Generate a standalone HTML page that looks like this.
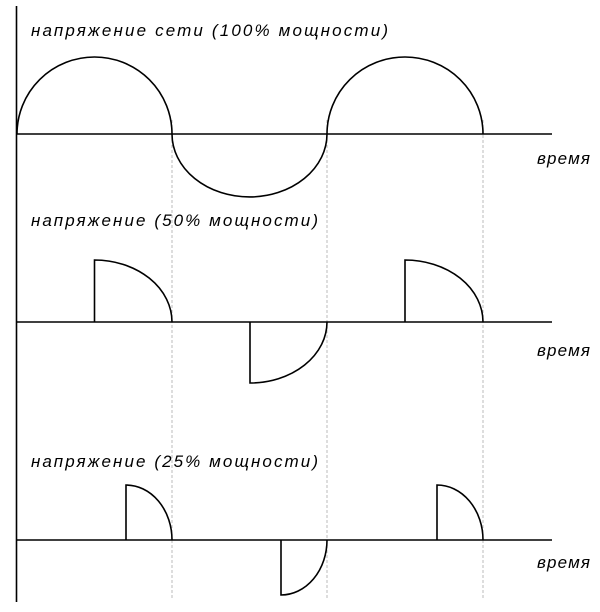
<!DOCTYPE html>
<html><head><meta charset="utf-8"><style>body{margin:0;background:#fff}svg{display:block}text{font-family:"Liberation Sans","DejaVu Sans",sans-serif;font-style:italic;font-size:17px;fill:#000}</style></head><body>
<svg width="600" height="612" viewBox="0 0 600 612" xmlns="http://www.w3.org/2000/svg">
<g stroke="#bbb" stroke-width="1" stroke-dasharray="3,2" fill="none">
<line x1="172" y1="120" x2="172" y2="600"/>
<line x1="327" y1="120" x2="327" y2="600"/>
<line x1="483" y1="120" x2="483" y2="600"/>
</g>
<g stroke="#000" stroke-width="1.6" fill="none">
<line x1="16.5" y1="6" x2="16.5" y2="602"/>
<line x1="16" y1="134" x2="552" y2="134"/>
<line x1="16" y1="322" x2="552" y2="322"/>
<line x1="16" y1="540" x2="552" y2="540"/>
<path d="M17 134 A77.5 77 0 0 1 172 134 A77.5 63 0 0 0 327 134 A78 77 0 0 1 483 134"/>
<path d="M94.5 322 V260 A77.5 62 0 0 1 172 322"/>
<path d="M405 322 V260 A78 62 0 0 1 483 322"/>
<path d="M250 322 V383 A77 61 0 0 0 327 322"/>
<path d="M126 540 V485 A46 55 0 0 1 172 540"/>
<path d="M437 540 V485 A46 55 0 0 1 483 540"/>
<path d="M281 540 V595 A46 55 0 0 0 327 540"/>
</g>
<text x="31" y="36" textLength="357" lengthAdjust="spacing">напряжение  сети  (100%  мощности)</text>
<text x="31" y="226" textLength="287" lengthAdjust="spacing">напряжение  (50%  мощности)</text>
<text x="31" y="467" textLength="287" lengthAdjust="spacing">напряжение  (25%  мощности)</text>
<text x="537" y="164" textLength="53" lengthAdjust="spacing">время</text>
<text x="537" y="356" textLength="53" lengthAdjust="spacing">время</text>
<text x="537" y="568" textLength="53" lengthAdjust="spacing">время</text>
</svg>
</body></html>
